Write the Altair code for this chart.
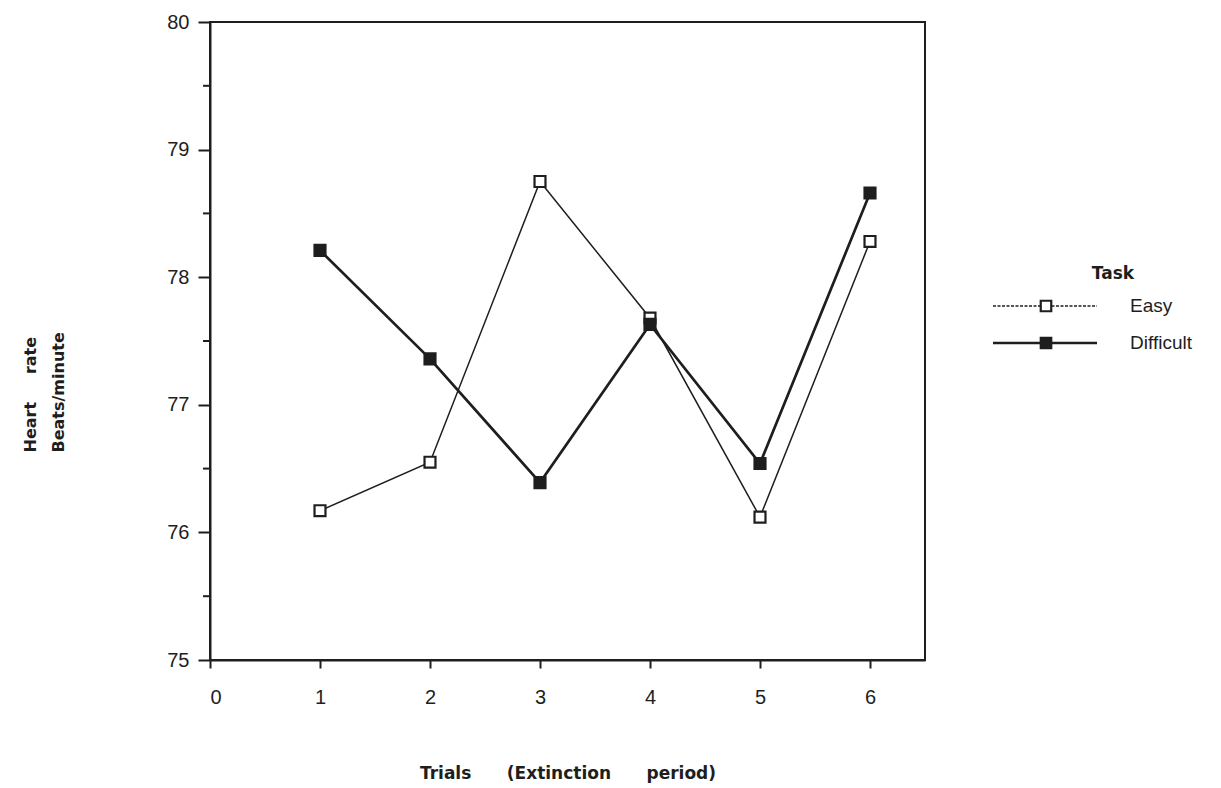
import altair as alt
import pandas as pd

# Mean heart rate (beats/minute) per extinction trial, by task difficulty
trials = [1, 2, 3, 4, 5, 6]
easy = [76.17, 76.55, 78.75, 77.68, 76.12, 78.28]
difficult = [78.21, 77.36, 76.39, 77.63, 76.54, 78.66]
tasks = ["Easy", "Difficult"]

x_ticks = [0, 1, 2, 3, 4, 5, 6]
y_ticks = [75, 76, 77, 78, 79, 80]
y_minor = [75.5, 76.5, 77.5, 78.5, 79.5]

INK = "#1e1e1e"
NB = "\u00a0"
W, H = 715, 638

df = pd.DataFrame({
    "Trial": trials * 2,
    "Rate": easy + difficult,
    "Task": ["Easy"] * len(trials) + ["Difficult"] * len(trials),
})

x_scale = alt.Scale(domain=[0, 6.5], nice=False, zero=False)
y_scale = alt.Scale(domain=[75, 80], nice=False, zero=False)

x_axis = alt.Axis(
    values=x_ticks, format="d", tickSize=8, labelPadding=19,
    title=f"Trials{NB*6}(Extinction{NB*6}period)",
    titleFontSize=17,
    titleX=W / 2, titleY=113, titleAlign="center", titleBaseline="middle",
)
y_axis = alt.Axis(
    values=y_ticks, format="d", tickSize=12, labelPadding=9,
    title=[f"Heart{NB*5}rate", "Beats/minute"],
    titleAngle=270, titleAlign="left", titleBaseline="middle",
    titleX=-180, titleY=430, titleLineHeight=28,
)

X = alt.X("Trial:Q", scale=x_scale, axis=x_axis)
Y = alt.Y("Rate:Q", scale=y_scale, axis=y_axis)

lines = alt.Chart(df).mark_line(color=INK).encode(
    x=X, y=Y,
    detail="Task:N",
    strokeWidth=alt.StrokeWidth(
        "Task:N", scale=alt.Scale(domain=tasks, range=[1.5, 2.7]), legend=None,
    ),
)

points = alt.Chart(df).mark_point(
    shape="square", size=120, filled=True, stroke=INK, strokeWidth=2.2, opacity=1
).encode(
    x=X, y=Y,
    fill=alt.Fill(
        "Task:N", scale=alt.Scale(domain=tasks, range=["#ffffff", INK]), legend=None,
    ),
)

# Unlabelled half-unit ticks on the rate axis
minor = alt.Chart(pd.DataFrame({"Rate": y_minor})).mark_rule(
    color=INK, strokeWidth=2
).encode(
    y=Y,
    x=alt.value(-7), x2=alt.value(0),
)

# Hand-built key to the right of the plot
legend_layers = [
    alt.Chart(pd.DataFrame({"label": ["Task"]})).mark_text(
        font="DejaVu Sans", fontWeight="bold", fontSize=17, color=INK,
        align="center", baseline="middle",
    ).encode(x=alt.value(903), y=alt.value(252), text="label:N")
]
key_rows = {"Easy": 284, "Difficult": 321}
key_style = {
    "Easy": dict(strokeWidth=1.5, strokeDash=[3, 1.5]),
    "Difficult": dict(strokeWidth=2.7),
}
key_fill = {"Easy": "#ffffff", "Difficult": INK}
for t in tasks:
    row = pd.DataFrame({"Task": [t]})
    ly = key_rows[t]
    legend_layers.append(
        alt.Chart(row).mark_rule(color=INK, **key_style[t]).encode(
            x=alt.value(783), x2=alt.value(887), y=alt.value(ly)
        )
    )
    legend_layers.append(
        alt.Chart(row).mark_point(
            shape="square", size=110, filled=True, fill=key_fill[t],
            stroke=INK, strokeWidth=2.2, opacity=1,
        ).encode(x=alt.value(836), y=alt.value(ly))
    )
    legend_layers.append(
        alt.Chart(row).mark_text(
            font="Liberation Sans", fontSize=19, color=INK,
            align="left", baseline="middle",
        ).encode(x=alt.value(920), y=alt.value(ly), text="Task:N")
    )

chart = (
    alt.layer(lines, points, minor, *legend_layers)
    .properties(
        width=W, height=H,
        autosize=alt.AutoSizeParams(type="none"),
        padding={"left": 210, "top": 22, "right": 296, "bottom": 128},
        background="white",
    )
    .configure_view(stroke=INK, strokeWidth=2)
    .configure_axis(
        grid=False,
        domainColor=INK, domainWidth=2,
        tickColor=INK, tickWidth=2,
        labelFont="Liberation Sans", labelFontSize=20, labelColor=INK,
        titleFont="DejaVu Sans", titleFontWeight="bold", titleFontSize=16,
        titleColor=INK,
    )
)

chart.save("out.html", embed_options={"renderer": "svg", "actions": False})
